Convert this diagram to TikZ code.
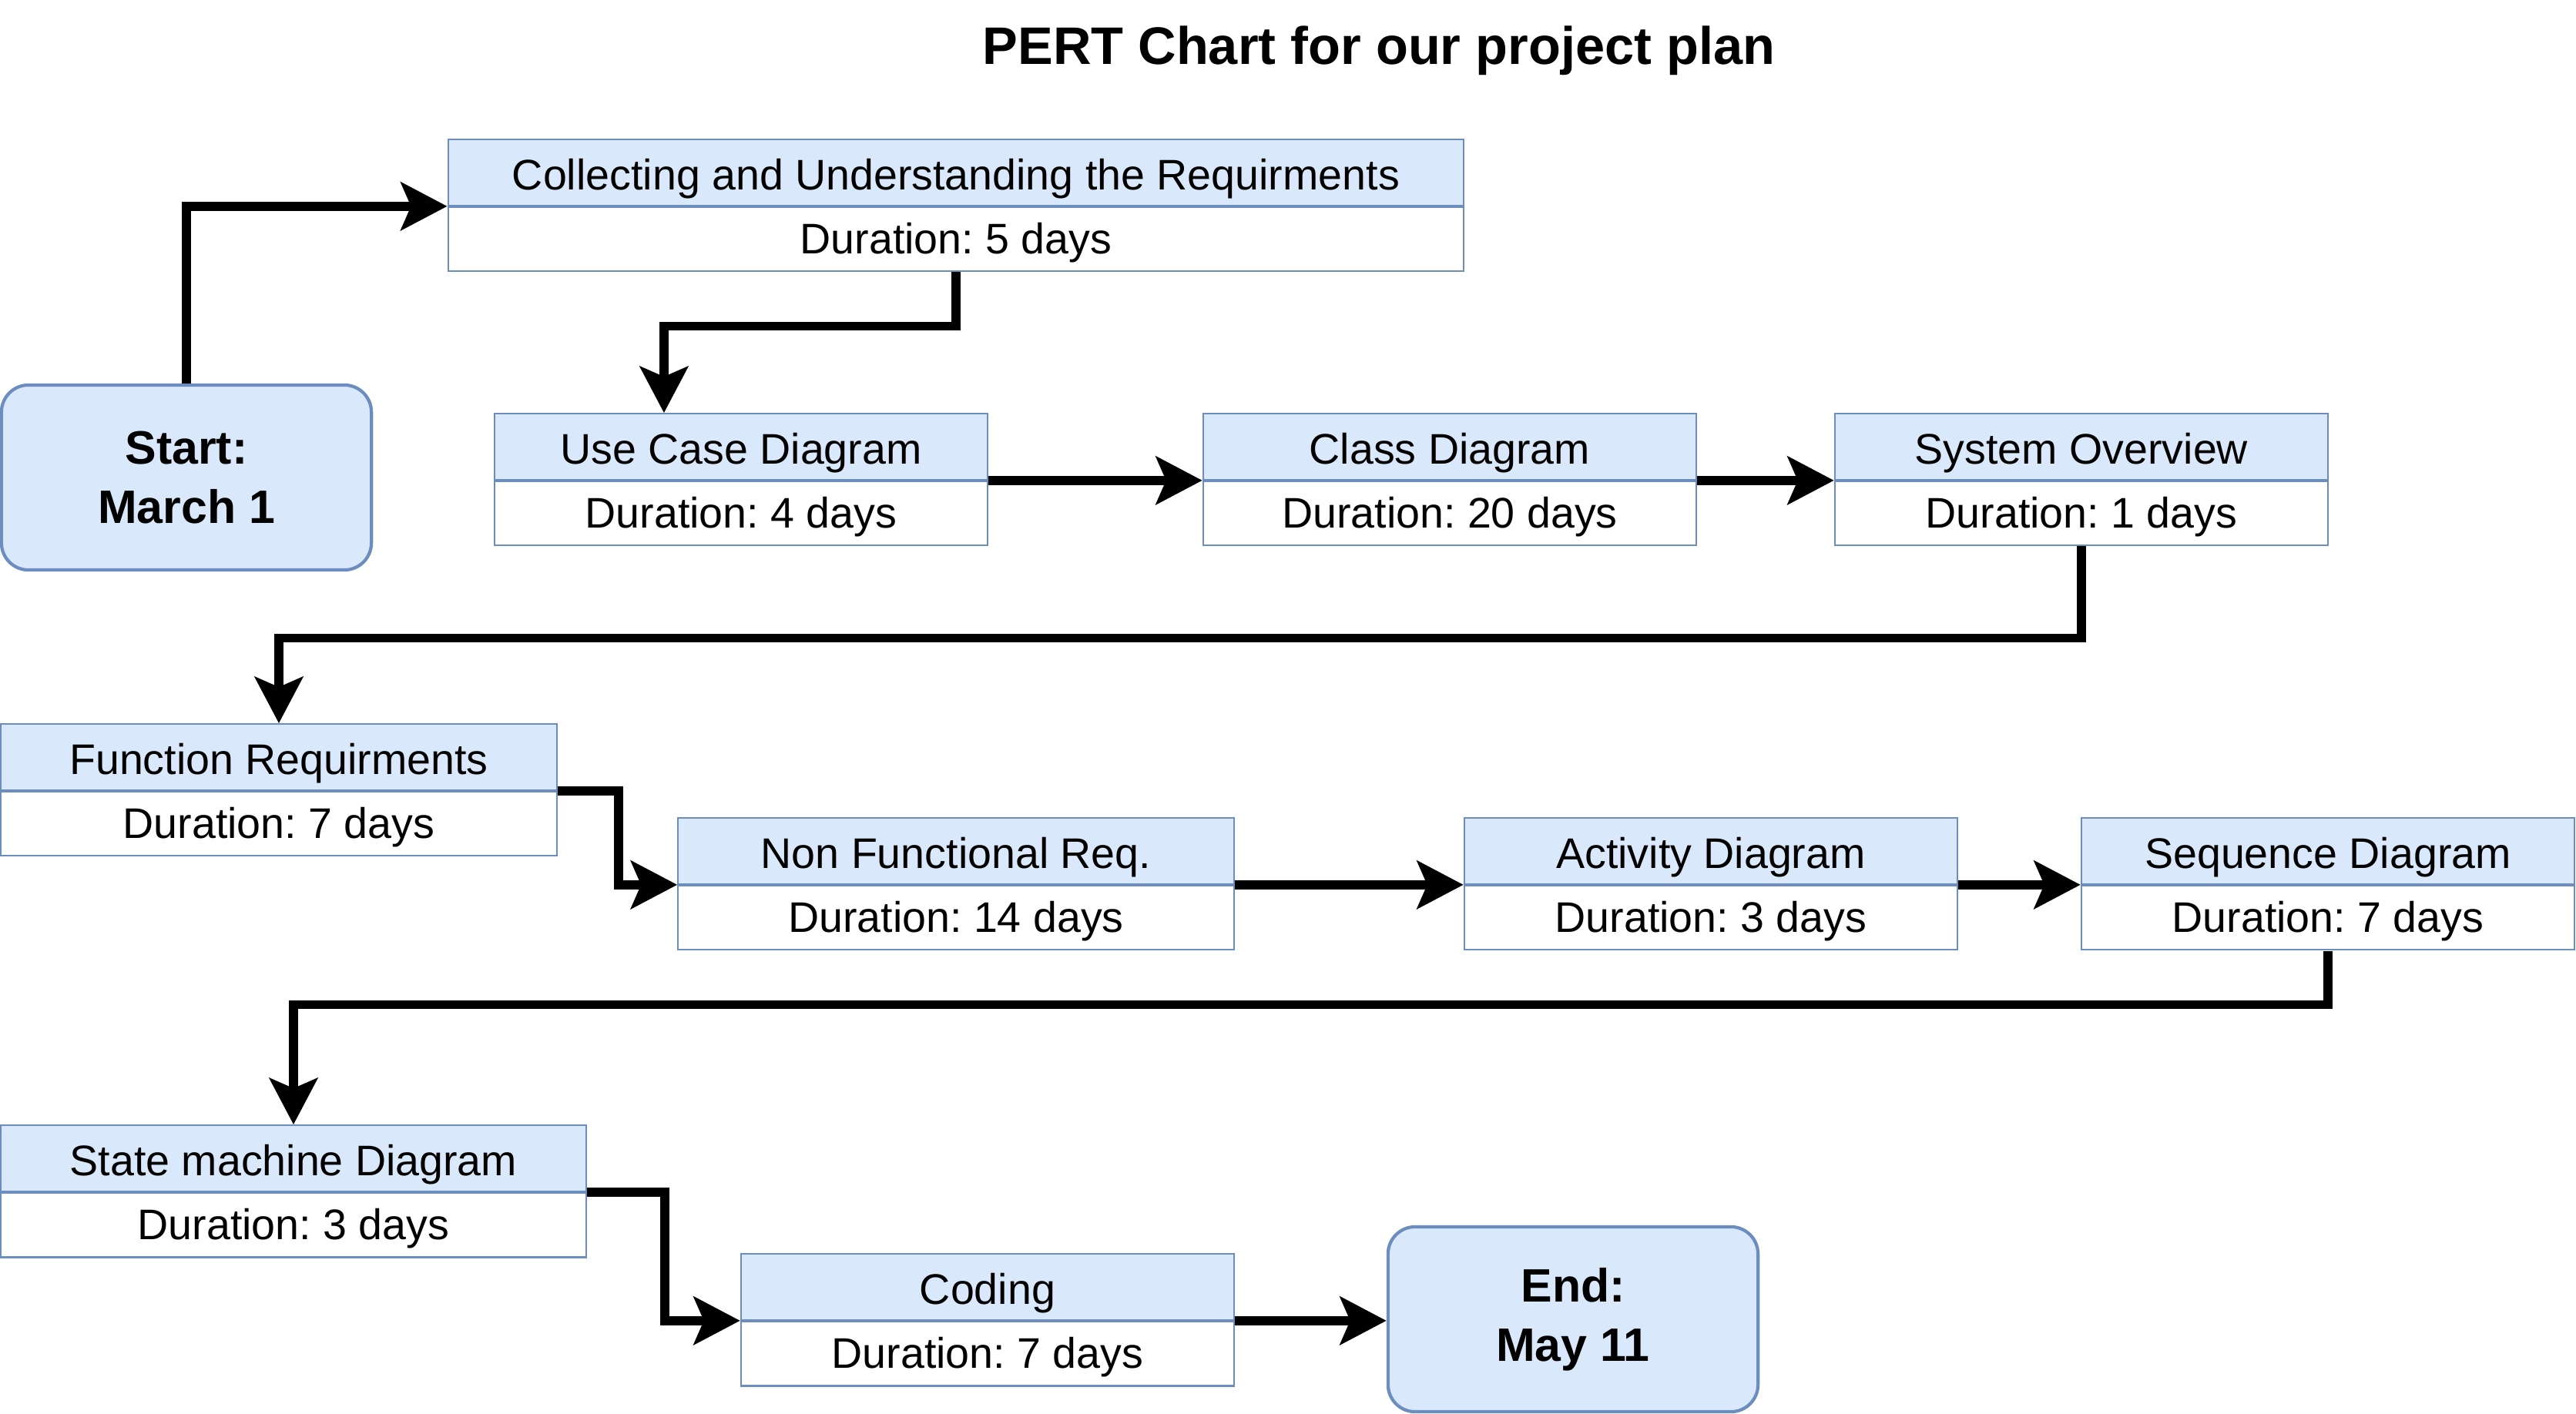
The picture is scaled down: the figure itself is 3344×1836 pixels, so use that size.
\documentclass[tikz,border=0pt]{standalone}
\usepackage{fontspec}
\setmainfont{Liberation Sans}
\usetikzlibrary{arrows.meta,calc}
\definecolor{boxfill}{HTML}{DAE8FC}
\definecolor{boxline}{HTML}{6C8EBF}
\frenchspacing
\tikzset{
  toprow/.style={rectangle, draw=boxline, fill=boxfill, line width=0.6pt, inner sep=0pt,
    minimum height=0.855cm, font=\fontsize{15.8}{19}\selectfont, text height=1.3em, text depth=0pt},
  botrow/.style={rectangle, draw=boxline, fill=white, line width=0.6pt, inner sep=0pt,
    minimum height=0.835cm, anchor=north, font=\fontsize{15.8}{19}\selectfont, text height=1.05em, text depth=0pt},
  milestone/.style={rectangle, rounded corners=10pt, draw=boxline, fill=boxfill, line width=1.2pt,
    minimum width=4.8cm, minimum height=2.4cm, align=center, inner sep=0pt,
    font=\fontsize{17.3}{21.8}\selectfont\bfseries},
  arr/.style={line width=3.4pt, -{Stealth[length=0.6cm, width=0.62cm, inset=0.13cm]}},
}
\newcommand{\pertbox}[6]{%
  \node[toprow, minimum width=#3cm] (#1) at (#2) {#5};
  \node[botrow, minimum width=#3cm] (#1d) at (#1.south) {#6};
}
\begin{document}
\begin{tikzpicture}[x=0.01cm, y=-0.01cm]
\useasboundingbox (0,0) rectangle (3344,1836);
\node[font=\fontsize{19.5}{23}\selectfont\bfseries] (title) at (1790,66) {PERT Chart for our project plan};

\node[milestone] (start) at (242,620) {Start:\\March 1};
\pertbox{collect}{1241,224}{13.18}{}{Collecting and Understanding the Requirments}{Duration: 5 days}
\pertbox{usecase}{962,580}{6.40}{}{Use Case Diagram}{Duration: 4 days}
\pertbox{class}{1882,580}{6.40}{}{Class Diagram}{Duration: 20 days}
\pertbox{system}{2702,580}{6.40}{}{System Overview}{Duration: 1 days}

\pertbox{funcreq}{362,983}{7.21}{}{Function Requirments}{Duration: 7 days}
\pertbox{nonfunc}{1241,1105}{7.21}{}{Non Functional Req.}{Duration: 14 days}
\pertbox{activity}{2221,1105}{6.40}{}{Activity Diagram}{Duration: 3 days}
\pertbox{sequence}{3022,1105}{6.40}{}{Sequence Diagram}{Duration: 7 days}

\pertbox{state}{381,1504}{7.59}{}{State machine Diagram}{Duration: 3 days}
\pertbox{coding}{1282,1671}{6.40}{}{Coding}{Duration: 7 days}
\node[milestone] (end) at (2042,1713) {End:\\May 11};

\draw[arr] (start.north) |- (collect.south west);
\draw[arr] (collectd.south) -- ++(0,70) -| ([xshift=-1cm]usecase.north);
\draw[arr] (usecase.south east) -- (class.south west);
\draw[arr] (class.south east) -- (system.south west);
\draw[arr] (systemd.south) -- ++(0,119) -| (funcreq.north);
\draw[arr] (funcreq.south east) -- ++(79,0) |- (nonfunc.south west);
\draw[arr] (nonfunc.south east) -- (activity.south west);
\draw[arr] (activity.south east) -- (sequence.south west);
\draw[arr] (sequenced.south) -- ++(0,70) -| (state.north);
\draw[arr] (state.south east) -- ++(101,0) |- (coding.south west);
\draw[arr] (coding.south east) -- (coding.south east -| end.west);
\end{tikzpicture}
\end{document}
